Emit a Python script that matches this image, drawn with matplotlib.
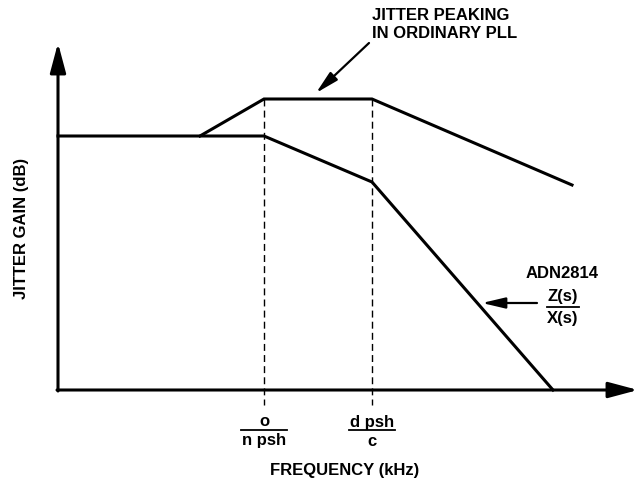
import matplotlib.pyplot as plt

# breakpoints of the two response curves (pixel-style coordinates, y grows down)
adn_x = [58, 264, 372, 553]
adn_y = [136, 136, 182, 390]
pll_x = [200, 264, 372, 572]
pll_y = [136, 99, 99, 185]
corner_x = [264, 372]
corner_num = ["o", "d psh"]
corner_den = ["n psh", "c"]
peak_lines = ["JITTER PEAKING", "IN ORDINARY PLL"]

BLACK = "#000000"
FONT = "Liberation Sans"
FS = 12

fig = plt.figure(figsize=(6.4, 4.8), dpi=100)
ax = fig.add_axes([0, 0, 1, 1])
ax.set_xlim(0, 640)
ax.set_ylim(480, 0)
ax.axis("off")

big_head = "-|>,head_length=1.8,head_width=0.48"
small_head = "-|>,head_length=1.4,head_width=0.33"

# axes with arrowheads
ax.annotate("", xy=(58, 43), xytext=(58, 391),
            arrowprops=dict(arrowstyle=big_head, color=BLACK, lw=2.2,
                            shrinkA=0, shrinkB=0))
ax.annotate("", xy=(638, 390), xytext=(57, 390),
            arrowprops=dict(arrowstyle=big_head, color=BLACK, lw=2.2,
                            shrinkA=0, shrinkB=0))

# curves
ax.plot(adn_x, adn_y, color=BLACK, lw=2.2, solid_joinstyle="miter")
ax.plot(pll_x, pll_y, color=BLACK, lw=2.2, solid_joinstyle="miter")

# dashed corner lines and fraction labels
for cx, num, den in zip(corner_x, corner_num, corner_den):
    ax.plot([cx, cx], [99, 405], color=BLACK, lw=1.0, ls=(0, (5, 3)))
    ax.text(cx, 422, num, ha="center", va="center", fontsize=FS,
            fontweight="bold", family=FONT)
    ax.text(cx, 441, den, ha="center", va="center", fontsize=FS,
            fontweight="bold", family=FONT)
    w = max(len(num), len(den)) * 4.5 + 0.5
    ax.plot([cx - w, cx + w], [430, 430], color=BLACK, lw=1.3)

ax.text(345, 470, "FREQUENCY (kHz)", ha="center", va="center", fontsize=FS,
        fontweight="bold", family=FONT)
ax.text(22, 228, "JITTER GAIN (dB)", ha="center", va="center", fontsize=FS,
        fontweight="bold", family=FONT, rotation=90)

# top annotation
for i, line in enumerate(peak_lines):
    ax.text(372, 15 + 18 * i, line, ha="left", va="center",
            fontsize=FS, fontweight="bold", family=FONT)
ax.annotate("", xy=(316, 93), xytext=(369, 43),
            arrowprops=dict(arrowstyle=small_head, color=BLACK, lw=1.6,
                            shrinkA=0, shrinkB=0))

# ADN2814 label
ax.text(562, 274, "ADN2814", ha="center", va="center", fontsize=FS,
        fontweight="bold", family=FONT)
ax.text(563, 297, "Z(s)", ha="center", va="center", fontsize=FS,
        fontweight="bold", family=FONT)
ax.text(563, 318, "X(s)", ha="center", va="center", fontsize=FS,
        fontweight="bold", family=FONT)
ax.plot([547, 579], [307, 307], color=BLACK, lw=1.3)
ax.annotate("", xy=(482, 303), xytext=(537, 303),
            arrowprops=dict(arrowstyle=small_head, color=BLACK, lw=1.6,
                            shrinkA=0, shrinkB=0))

fig.savefig("out.png", dpi=100, facecolor="white")
